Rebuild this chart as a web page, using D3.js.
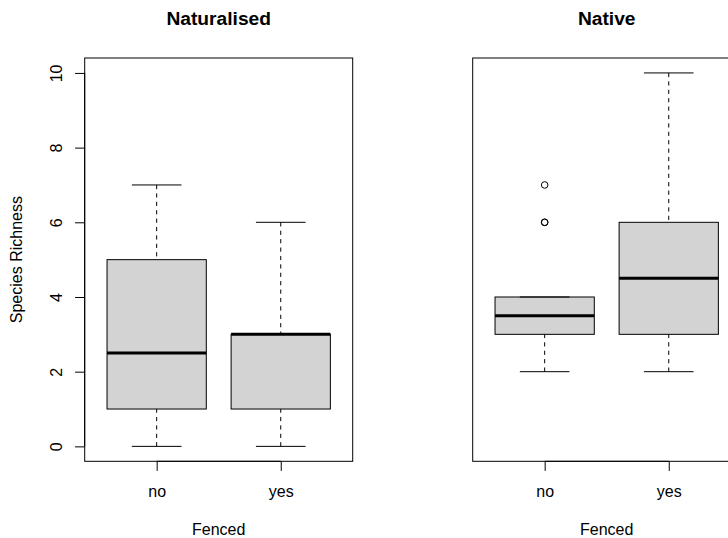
<!DOCTYPE html>
<html>
<head>
<meta charset="utf-8">
<script src="https://cdn.jsdelivr.net/npm/d3@7"></script>
<style>
  body { margin: 0; background: #fff; }
  svg { display: block; font-family: "Liberation Sans", Arial, Helvetica, sans-serif; }
</style>
</head>
<body>
<script>
// data: [min, Q1, median, Q3, max]
var categories = ["no", "yes"]
var panelTitles = ["Naturalised", "Native"]
var naturalisedStats = [[0, 1, 2.5, 5, 7], [0, 1, 3, 3, 6]]
var nativeStats = [[2, 3, 3.5, 4, 4], [2, 3, 4.5, 6, 10]]
var naturalisedOutliers = [[], []]
var nativeOutliers = [[6, 6, 7], []]
var yTicks = [0, 2, 4, 6, 8, 10]
var xLabel = "Fenced"
var yLabel = "Species Richness"

var w = 728
var h = 538

var svg = d3.select("body").append("svg")
   .attr("width", w)
   .attr("height", h)

// shared y scale (R pads the range by 4%)
var plotTop = 58, plotBottom = 461.3
var y = d3.scaleLinear().domain([-0.4, 10.4]).range([plotBottom, plotTop])

var panels = [
  {left: 84.7, title: panelTitles[0], stats: naturalisedStats, out: naturalisedOutliers, yaxis: true},
  {left: 472.7, title: panelTitles[1], stats: nativeStats, out: nativeOutliers, yaxis: false}
]
var pw = 268

panels.forEach(function(p) {
  var x = d3.scaleLinear().domain([0.42, 2.58]).range([p.left, p.left + pw])
  var g = svg.append("g")
  var bw = (x(1.4) - x(1.0))  // half box width
  var cw = bw / 2             // half staple width

  // boxes
  p.stats.forEach(function(s, i) {
    var cx = x(i + 1)
    g.append("rect")
      .attr("x", cx - bw).attr("y", y(s[3]))
      .attr("width", 2 * bw).attr("height", y(s[1]) - y(s[3]))
      .attr("fill", "#d3d3d3").attr("stroke", "#000").attr("stroke-width", 1)
    // whiskers, drawn from the extreme to the box
    g.append("line")
      .attr("x1", cx).attr("x2", cx).attr("y1", y(s[0])).attr("y2", y(s[1]))
      .attr("stroke", "#000").attr("stroke-dasharray", "4.2,4.2")
    g.append("line")
      .attr("x1", cx).attr("x2", cx).attr("y1", y(s[4])).attr("y2", y(s[3]))
      .attr("stroke", "#000").attr("stroke-dasharray", "4.2,4.2")
    // staples
    ;[s[0], s[4]].forEach(function(v) {
      g.append("line")
        .attr("x1", cx - cw).attr("x2", cx + cw).attr("y1", y(v)).attr("y2", y(v))
        .attr("stroke", "#000")
    })
    // median
    g.append("line")
      .attr("x1", cx - bw).attr("x2", cx + bw).attr("y1", y(s[2])).attr("y2", y(s[2]))
      .attr("stroke", "#000").attr("stroke-width", 3)
    // outliers
    p.out[i].forEach(function(v) {
      g.append("circle")
        .attr("cx", cx).attr("cy", y(v)).attr("r", 3.3)
        .attr("fill", "none").attr("stroke", "#000").attr("stroke-width", 1)
    })
  })

  // frame
  g.append("rect")
    .attr("x", p.left).attr("y", plotTop).attr("width", pw).attr("height", plotBottom - plotTop)
    .attr("fill", "none").attr("stroke", "#000").attr("stroke-width", 1)

  // x axis
  var xa = g.append("g").attr("transform", "translate(0," + plotBottom + ")")
    .call(d3.axisBottom(x).tickValues([1, 2]).tickSize(9.6).tickPadding(0)
      .tickFormat(function(d) { return categories[d - 1] }))
  xa.select(".domain").attr("d", "M" + x(1) + ",0H" + x(2))
  xa.selectAll("text").attr("font-size", 16).attr("font-family", null)
    .attr("y", 497 - plotBottom).attr("dy", null).attr("fill", "#000")

  g.append("text").attr("x", p.left + pw / 2).attr("y", 535)
    .attr("text-anchor", "middle").attr("font-size", 16).text(xLabel)

  // title
  g.append("text").attr("x", p.left + pw / 2).attr("y", 25)
    .attr("text-anchor", "middle").attr("font-size", 19.2).attr("font-weight", "bold")
    .text(p.title)

  if (p.yaxis) {
    var ya = g.append("g").attr("transform", "translate(" + p.left + ",0)")
      .call(d3.axisLeft(y).tickValues(yTicks).tickSize(9.6))
    ya.select(".domain").attr("d", "M0," + y(0) + "V" + y(10))
    ya.selectAll("text").remove()
    ya.selectAll(".tick").append("text")
      .attr("transform", "translate(" + (62 - p.left) + ",0) rotate(-90)")
      .attr("text-anchor", "middle").attr("font-size", 16).attr("fill", "#000")
      .text(function(d) { return d })

    svg.append("text")
      .attr("transform", "translate(22," + ((plotTop + plotBottom) / 2) + ") rotate(-90)")
      .attr("text-anchor", "middle").attr("font-size", 16).text(yLabel)
  }
})
</script>
</body>
</html>
